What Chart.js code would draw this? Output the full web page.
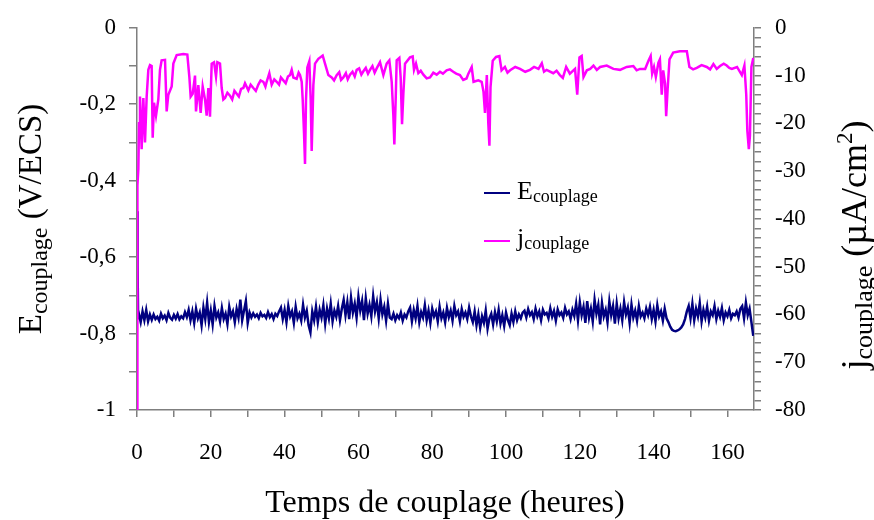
<!DOCTYPE html>
<html>
<head>
<meta charset="utf-8">
<title>Couplage</title>
<script src="https://cdn.jsdelivr.net/npm/chart.js@4.4.0/dist/chart.umd.min.js"></script>
<style>
  html, body { margin: 0; padding: 0; background: #ffffff; }
  canvas { display: block; }
</style>
</head>
<body>
<canvas id="couplage-chart" width="874" height="520"></canvas>
<script>
'use strict';

// Potentiel de couplage (V/ECS) : début du relevé, puis un point toutes les 0,5 h
const eStartHours = [0, 0.15, 0.3];
const eStartValues = [-0.48, -0.62, -0.76];
const eStep = 0.5;
const eValues = [
  -0.748, -0.770, -0.742, -0.765, -0.738, -0.768, -0.750,
  -0.764, -0.750, -0.762, -0.756, -0.766, -0.748, -0.760, -0.753, -0.765, -0.746,
  -0.759, -0.764, -0.751, -0.761, -0.749, -0.763, -0.755, -0.760, -0.744, -0.757,
  -0.738, -0.765, -0.742, -0.772, -0.735, -0.760, -0.745, -0.778, -0.732, -0.762,
  -0.719, -0.770, -0.740, -0.776, -0.728, -0.758, -0.745, -0.768, -0.733, -0.762,
  -0.748, -0.775, -0.730, -0.755, -0.742, -0.770, -0.736, -0.758, -0.711, -0.765,
  -0.740, -0.715, -0.772, -0.745,
  -0.758, -0.747, -0.756, -0.750, -0.760, -0.746, -0.755, -0.751, -0.759, -0.744,
  -0.757, -0.749, -0.762, -0.748, -0.754, -0.742,
  -0.732, -0.762, -0.738, -0.770, -0.728, -0.755, -0.742, -0.772, -0.730, -0.760,
  -0.748, -0.766, -0.725, -0.758, -0.740, -0.778, -0.797, -0.742, -0.765, -0.730,
  -0.770, -0.738, -0.758, -0.726, -0.774, -0.735, -0.760, -0.722, -0.768, -0.740,
  -0.756, -0.728, -0.765, -0.735,
  -0.712, -0.752, -0.718, -0.762, -0.706, -0.745, -0.722, -0.758, -0.704, -0.740,
  -0.715, -0.765, -0.708, -0.748, -0.725, -0.755, -0.702, -0.742, -0.718, -0.760,
  -0.712, -0.750, -0.730, -0.766, -0.722, -0.758,
  -0.762, -0.748, -0.765, -0.752, -0.760, -0.745, -0.766, -0.750, -0.758, -0.742,
  -0.732, -0.768, -0.738, -0.760, -0.728, -0.770, -0.744, -0.758, -0.726, -0.765,
  -0.740, -0.772, -0.735, -0.755, -0.742, -0.768, -0.730, -0.760, -0.745, -0.770,
  -0.733, -0.757, -0.740, -0.766, -0.728, -0.752, -0.742, -0.768, -0.736, -0.756,
  -0.745, -0.762, -0.732, -0.755,
  -0.770, -0.742, -0.778, -0.750, -0.785, -0.755, -0.772, -0.740, -0.787, -0.760,
  -0.748, -0.776, -0.744, -0.768, -0.738, -0.774, -0.752, -0.780, -0.745, -0.765,
  -0.778, -0.748, -0.770, -0.742, -0.765, -0.750, -0.760, -0.745,
  -0.740, -0.758, -0.736, -0.752, -0.744, -0.762, -0.735, -0.755, -0.742, -0.765,
  -0.738, -0.750, -0.746, -0.760, -0.734, -0.756, -0.741, -0.766, -0.737, -0.752,
  -0.745, -0.759, -0.733, -0.750, -0.742, -0.762, -0.738, -0.754,
  -0.722, -0.765, -0.718, -0.752, -0.730, -0.772, -0.715, -0.758, -0.735, -0.768,
  -0.712, -0.748, -0.725, -0.776, -0.720, -0.755, -0.738, -0.770, -0.716, -0.752,
  -0.728, -0.774, -0.722, -0.760, -0.735, -0.765, -0.718, -0.750, -0.732, -0.772,
  -0.724, -0.758, -0.740, -0.766, -0.728, -0.755, -0.745, -0.760, -0.735, -0.752,
  -0.730, -0.762, -0.738, -0.768, -0.726, -0.755, -0.742, -0.766, -0.735, -0.760, -0.770,
  -0.782, -0.790, -0.793, -0.794, -0.792, -0.789, -0.784, -0.776, -0.762, -0.742,
  -0.728, -0.760, -0.722, -0.765, -0.735, -0.755, -0.720, -0.768, -0.738, -0.758,
  -0.730, -0.766, -0.742, -0.752, -0.728, -0.762, -0.740, -0.756, -0.733, -0.765,
  -0.745, -0.755, -0.738, -0.760, -0.748, -0.752, -0.742, -0.758, -0.735,
  -0.728, -0.760, -0.719, -0.752, -0.735, -0.770, -0.806];

// Densité de courant de couplage (µA/cm²)
const jHours = [
  0, 0.05, 0.09, 0.2, 0.36, 0.55, 0.81, 1.26, 1.72, 2.17,
  2.62, 3.07, 3.52, 3.97, 4.25, 4.61, 5.15, 5.78, 6.23, 6.68,
  7.59, 8.04, 8.49, 9.4, 9.85, 10.75, 12.56, 13.64, 14.18, 14.54,
  15.09, 15.72, 15.99, 16.62, 17.25, 17.8, 18.43, 18.88, 19.33, 19.78,
  20.24, 20.87, 21.41, 21.77, 22.49, 22.95, 23.4, 23.85, 24.5, 25.2,
  25.8, 26.4, 27.01, 27.6, 28.2, 28.82, 29.27, 30.17, 30.8, 31.53,
  32.2, 32.88, 33.5, 34.24, 34.8, 35.14, 35.86, 36.5, 37.2, 37.85,
  38.5, 39.0, 39.66, 40.3, 40.9, 41.46, 41.92, 42.37, 43.27, 43.8,
  44.17, 44.63, 44.9, 45.26, 45.53, 45.8, 46.16, 46.7, 47.07, 47.34,
  47.79, 48.24, 49.14, 50.32, 50.95, 51.85, 52.76, 53.4, 54.11, 54.8,
  55.3, 55.92, 56.6, 57.1, 57.72, 58.4, 59.0, 59.53, 60.2, 60.8,
  61.34, 62.0, 62.6, 63.14, 63.8, 64.4, 64.95, 65.85, 66.76, 67.66,
  68.38, 69.02, 69.47, 69.74, 70.1, 70.37, 71.09, 71.45, 71.82, 72.18,
  72.63, 73.98, 74.71, 75.07, 75.61, 76.24, 76.9, 77.6, 78.5, 79.4,
  80.3, 81.21, 82.1, 82.9, 83.9, 84.8, 85.7, 86.5, 87.5, 88.4,
  89.3, 89.8, 90.7, 91.2, 92.5, 93.4, 93.9, 94.3, 94.8, 95.2,
  95.5, 95.8, 96.4, 97.3, 98.2, 98.8, 99.7, 100.4, 101.1, 102.5,
  103.8, 105.2, 106.5, 107.6, 108.8, 109.7, 110.3, 111.0, 112.8, 113.7,
  114.6, 115.4, 116.3, 117.3, 118.7, 119.3, 119.9, 120.5, 121.0, 121.9,
  122.8, 123.7, 124.6, 125.5, 127.3, 129.1, 130.9, 132.7, 134.5, 135.4,
  136.3, 137.7, 138.6, 139.2, 139.6, 140.1, 140.6, 141.3, 141.7, 142.2,
  142.6, 143.1, 143.4, 143.8, 144.3, 145.3, 147.1, 149.0, 149.7, 150.7,
  151.7, 153.0, 154.4, 155.3, 156.2, 157.1, 158.0, 159.0, 159.8, 160.5,
  161.2, 162.6, 163.9, 164.6, 165.1, 165.4, 165.8, 166.1, 166.5, 167.0];
const jValues = [
  -80, -62, -45, -33, -29.6, -20, -14.4, -25.4, -14.7, -24,
  -14.4, -8.8, -7.8, -8, -23, -15.7, -18.4, -15, -8.8, -6.8,
  -6.7, -17.5, -14, -12.3, -7.5, -5.7, -5.5, -5.6, -10.2, -14.4,
  -13.8, -10, -17.5, -12, -17.8, -12.3, -15, -18.4, -12.6, -18.6,
  -7.5, -7.2, -10.2, -7.2, -7.5, -12.6, -15, -14.7, -13.6, -14.2,
  -15.0, -13.2, -13.8, -14.4, -12.8, -12.6, -11.6, -13.1, -11.9, -12.6,
  -13.2, -11.9, -11.0, -11.3, -12.3, -11.3, -9.5, -11.9, -10.8, -11.3,
  -11.9, -10.4, -11, -11.6, -10.2, -9.9, -8.8, -10.4, -10.7, -9.4,
  -9.9, -11.3, -15, -22, -28.5, -15, -8.3, -7, -15, -25.8,
  -12, -7.5, -6.5, -5.8, -7.5, -9.9, -10.4, -11.0, -9.9, -9.3,
  -10.9, -10.4, -9.5, -10.8, -9.8, -9.2, -10.2, -8.8, -8.5, -9.8,
  -9.1, -8.4, -9.6, -8.8, -8.0, -9.4, -8.5, -7.2, -9.9, -7.5,
  -6.8, -11.3, -18.4, -24.4, -15, -6.8, -6.3, -10.4, -20.2, -13.8,
  -7.5, -6.2, -6, -8.8, -7.5, -9.5, -9.0, -9.8, -10.6, -10.4,
  -9.4, -9.8, -9.2, -9.6, -8.9, -8.7, -9.2, -9.6, -9.9, -10.9,
  -10.6, -9.6, -8.2, -11.3, -11, -11.3, -13.4, -17.8, -9.9, -20,
  -24.7, -12.4, -6.9, -6.1, -5.9, -8.9, -8.2, -9.4, -8.9, -8.2,
  -8.6, -9.2, -8.8, -8.2, -8.6, -7.4, -9.2, -8.8, -9.5, -9.0,
  -9.9, -10.5, -8.2, -9.6, -8.6, -14, -6.2, -5.9, -10.3, -8.9,
  -8.6, -7.9, -8.8, -8.2, -7.9, -8.6, -8.8, -8.2, -8.0, -8.9,
  -8.6, -8.6, -6.9, -5.9, -9.6, -8.2, -10.3, -7.3, -6.6, -14,
  -8.9, -11.7, -18.5, -12.8, -6.6, -5.2, -4.9, -4.9, -8.2, -8.7,
  -8.4, -7.8, -8.2, -8.7, -7.6, -8.6, -8, -7.5, -7.9, -8.4,
  -8.6, -8.2, -9.9, -7.9, -14, -21.6, -25.4, -22.6, -8.2, -6.3];

const axisGray = '#7f7f7f';
const serif = "'Liberation Serif', 'Times New Roman', serif";

Chart.defaults.font.family = serif;
Chart.defaults.font.size = 23;
Chart.defaults.color = '#000000';

// points du potentiel : début puis pas régulier
const ePoints = eStartHours.map((h, i) => ({ x: h, y: eStartValues[i] }))
  .concat(eValues.map((v, i) => ({ x: (i + 1) * eStep, y: v })));
const jPoints = jHours.map((h, i) => ({ x: h, y: jValues[i] }));

// écrit un texte en plusieurs morceaux (indices) centré sur x
function drawParts(ctx, parts, x, y) {
  let total = 0;
  parts.forEach(p => {
    ctx.font = p.size + 'px ' + serif;
    p.w = ctx.measureText(p.t).width;
    total += p.w;
  });
  let cx = x - total / 2;
  parts.forEach(p => {
    ctx.font = p.size + 'px ' + serif;
    ctx.fillText(p.t, cx, y + (p.dy || 0));
    cx += p.w;
  });
}

function drawRotated(ctx, parts, x, y) {
  ctx.save();
  ctx.translate(x, y);
  ctx.rotate(-Math.PI / 2);
  drawParts(ctx, parts, 0, 0);
  ctx.restore();
}

const titlesPlugin = {
  id: 'titles',
  afterDraw: function (chart) {
    const ctx = chart.ctx;
    ctx.save();
    ctx.fillStyle = '#000000';
    ctx.textBaseline = 'alphabetic';
    ctx.textAlign = 'left';

    // titres des axes
    drawParts(ctx, [{ t: 'Temps de couplage (heures)', size: 32 }], 445, 512);
    drawRotated(ctx, [
      { t: 'E', size: 33 },
      { t: 'couplage', size: 24, dy: 6 },
      { t: ' (V/ECS)', size: 33 }
    ], 41, 219);
    drawRotated(ctx, [
      { t: 'j', size: 36 },
      { t: 'couplage', size: 26, dy: 6 },
      { t: ' (\u00B5A/cm', size: 36 },
      { t: '2', size: 23, dy: -14 },
      { t: ')', size: 36 }
    ], 866, 245);

    // légende
    const items = [
      { color: '#000080', main: 'E', y: 193, base: 199 },
      { color: '#FF00FF', main: 'j', y: 241, base: 246 }
    ];
    items.forEach(it => {
      ctx.strokeStyle = it.color;
      ctx.lineWidth = 2;
      ctx.beginPath();
      ctx.moveTo(484, it.y);
      ctx.lineTo(510, it.y);
      ctx.stroke();
      ctx.font = '26px ' + serif;
      ctx.fillText(it.main, 517, it.base);
      const w = ctx.measureText(it.main).width;
      ctx.font = '18px ' + serif;
      ctx.fillText('couplage', 517 + w, it.base + 3);
    });
    ctx.restore();
  }
};

function frLabel(v) {
  const r = Math.round(v * 10);
  if (r % 2 !== 0) return '';
  if (r === 0) return '0';
  if (r === -10) return '-1';
  return (r / 10).toFixed(1).replace('.', ',');
}

const ctx = document.getElementById('couplage-chart');

new Chart(ctx, {
  type: 'line',
  data: {
    datasets: [{
      label: 'jcouplage',
      data: jPoints,
      yAxisID: 'yJ',
      borderColor: '#FF00FF',
      borderWidth: 2.5,
      pointRadius: 0,
      fill: false,
      tension: 0
    }, {
      label: 'Ecouplage',
      data: ePoints,
      yAxisID: 'yE',
      borderColor: '#000080',
      borderWidth: 2.5,
      pointRadius: 0,
      fill: false,
      tension: 0
    }]
  },
  options: {
    responsive: false,
    animation: false,
    layout: { padding: { top: 24, left: 0, right: 0, bottom: 0 } },
    plugins: {
      legend: { display: false },
      tooltip: { enabled: false }
    },
    scales: {
      x: {
        type: 'linear',
        position: 'bottom',
        min: 0,
        max: 167.2,
        afterFit: function (scale) { scale.height = 110; },
        border: { color: axisGray, width: 1.5 },
        grid: { drawOnChartArea: false, drawTicks: true, tickLength: 7, color: axisGray, lineWidth: 1.5 },
        ticks: {
          stepSize: 10,
          autoSkip: false,
          includeBounds: false,
          maxRotation: 0,
          padding: 22,
          callback: function (v) { return v % 20 === 0 ? String(v) : ''; }
        }
      },
      yE: {
        type: 'linear',
        position: 'left',
        min: -1,
        max: 0,
        afterFit: function (scale) { scale.width = 137; },
        border: { color: axisGray, width: 1.5 },
        grid: { drawOnChartArea: false, drawTicks: true, tickLength: 8, color: axisGray, lineWidth: 1.5 },
        ticks: {
          stepSize: 0.1,
          autoSkip: false,
          padding: 13,
          callback: frLabel
        }
      },
      yJ: {
        type: 'linear',
        position: 'right',
        min: -80,
        max: 0,
        afterFit: function (scale) { scale.width = 120; },
        border: { color: axisGray, width: 1.5 },
        grid: { drawOnChartArea: false, drawTicks: true, tickLength: 7, color: axisGray, lineWidth: 1.5 },
        ticks: {
          stepSize: 2,
          autoSkip: false,
          padding: 14,
          callback: function (v) { return v % 10 === 0 ? String(v) : ''; }
        }
      }
    }
  },
  plugins: [titlesPlugin]
});
</script>
</body>
</html>
